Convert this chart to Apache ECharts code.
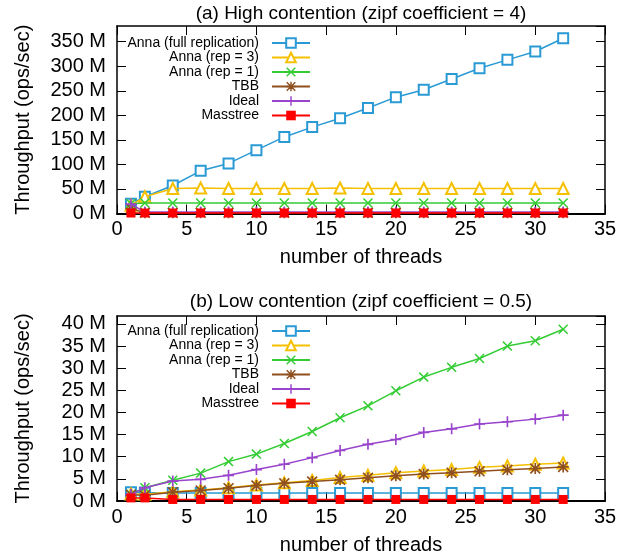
<!DOCTYPE html>
<html>
<head>
<meta charset="utf-8">
<script src="https://cdn.jsdelivr.net/npm/echarts@6/dist/echarts.min.js"></script>
<style>html,body{margin:0;padding:0;background:#fff}#c{width:633px;height:556px}</style>
</head>
<body>
<div id="c"></div>
<script>
// ---- data ----
var threads = [1, 2, 4, 6, 8, 10, 12, 14, 16, 18, 20, 22, 24, 26, 28, 30, 32];
var seriesNames = ['Anna (full replication)', 'Anna (rep = 3)', 'Anna (rep = 1)', 'TBB', 'Ideal', 'Masstree'];
var xTicks = [0, 5, 10, 15, 20, 25, 30, 35];
var titleHigh = '(a) High contention (zipf coefficient = 4)';
var titleLow = '(b) Low contention (zipf coefficient = 0.5)';
var yName = 'Throughput (ops/sec)';
var xName = 'number of threads';

// high contention (M ops/sec)
var hiFull  = [20, 34, 57, 87, 102, 129, 156, 176, 194, 215, 237, 252, 274, 296, 313, 330, 357];
var hiRep3  = [17, 34, 51, 52, 51, 51, 51, 51, 52, 51, 51, 51, 51, 51, 51, 51, 51];
var hiRep1  = [20, 21.5, 21.5, 21.5, 21.5, 21.5, 21.5, 21.5, 21.5, 21.5, 21.5, 21.5, 21.5, 21.5, 21.5, 21.5, 21.5];
var hiTBB   = [10, 1.5, 1.5, 1.5, 1.5, 1.5, 1.5, 1.5, 1.5, 1.5, 1.5, 1.5, 1.5, 1.5, 1.5, 1.5, 1.5];
var hiIdeal = [19, 3, 3, 3, 3, 3, 3, 3, 3, 3, 3, 3, 3, 3, 3, 3, 3];
var hiMass  = [1, 1, 1, 1, 1, 1, 1, 1, 1, 1, 1, 1, 1, 1, 1, 1, 1];

// low contention (M ops/sec)
var loFull  = [2.0, 1.9, 1.8, 1.8, 1.8, 1.8, 1.8, 1.8, 1.8, 1.8, 1.8, 1.8, 1.8, 1.8, 1.8, 1.8, 1.8];
var loRep3  = [1.6, 1.5, 2.1, 2.5, 3.0, 3.6, 4.1, 4.65, 5.3, 5.8, 6.4, 6.8, 7.1, 7.6, 7.9, 8.3, 8.6];
var loRep1  = [1.5, 3.0, 4.7, 6.3, 8.9, 10.6, 13.0, 15.7, 18.8, 21.5, 24.9, 28.0, 30.2, 32.2, 35.0, 36.2, 38.8];
var loTBB   = [1.4, 1.3, 2.0, 2.4, 2.9, 3.5, 4.0, 4.4, 4.8, 5.25, 5.7, 6.1, 6.4, 6.7, 7.05, 7.35, 7.7];
var loIdeal = [1.5, 3.0, 4.5, 4.9, 5.8, 7.1, 8.3, 9.8, 11.4, 12.8, 13.9, 15.5, 16.3, 17.4, 17.9, 18.5, 19.4];
var loMass  = [0.7, 0.7, 0.35, 0.35, 0.35, 0.35, 0.35, 0.35, 0.35, 0.35, 0.35, 0.35, 0.35, 0.35, 0.35, 0.35, 0.35];

// ---- styling ----
var FONT = 'Liberation Sans, Arial, Helvetica, sans-serif';
var colors = ['#2a9ad4', '#f5c000', '#33cc33', '#8f4f1e', '#9944cc', '#ff0000'];
var PLUS = 'M8.5,0H11.5V8.5H20V11.5H11.5V20H8.5V11.5H0V8.5H8.5Z';
var XS = 'M0,2.12L2.12,0L10,7.88L17.88,0L20,2.12L12.12,10L20,17.88L17.88,20L10,12.12L2.12,20L0,17.88L7.88,10Z';
var symbols = ['emptyRect', 'emptyTriangle', 'path://' + XS, 'path://' + PLUS + ' ' + XS, 'path://' + PLUS, 'rect'];
var symSizes = [10, 11, 10, 11, 11, 9];

function pairs(vals) { return threads.map(function (t, i) { return [t, vals[i]]; }); }

function mkSeries(dataSets, gi) {
  return dataSets.map(function (vals, k) {
    return {
      type: 'line', name: seriesNames[k], xAxisIndex: gi * 2, yAxisIndex: gi * 2,
      data: pairs(vals), symbol: symbols[k], symbolSize: symSizes[k],
      showAllSymbol: true,
      lineStyle: { width: 1.5, color: colors[k] },
      itemStyle: { color: colors[k], borderWidth: 1.5 },
      z: 2 + k
    };
  });
}

function xAxes(gi) {
  return [
    { type: 'value', gridIndex: gi, min: 0, max: 35, interval: 5, position: 'bottom',
      name: xName, nameLocation: 'middle', nameGap: 34,
      nameTextStyle: { fontFamily: FONT, fontSize: 20, color: '#000' },
      axisLine: { show: true, onZero: false, lineStyle: { color: '#000', width: 2 } },
      axisTick: { show: true, inside: true, length: 9, lineStyle: { color: '#000', width: 1 } },
      axisLabel: { margin: 6, fontFamily: FONT, fontSize: 20, color: '#000',
        formatter: function (v) { return xTicks.indexOf(v) >= 0 ? String(v) : ''; } },
      splitLine: { show: false } },
    { type: 'value', gridIndex: gi, min: 0, max: 35, interval: 5, position: 'top',
      axisLine: { show: true, onZero: false, lineStyle: { color: '#000', width: 1.5 } },
      axisTick: { show: true, inside: true, length: 9, lineStyle: { color: '#000', width: 1 } },
      axisLabel: { show: false }, splitLine: { show: false } }
  ];
}

function yAxes(gi, max, interval) {
  var fmt = function (v) { return (Math.abs(v % interval) < 1e-9) ? (v + ' M') : ''; };
  return [
    { type: 'value', gridIndex: gi, min: 0, max: max, interval: interval, position: 'left',
      name: yName, nameLocation: 'middle', nameGap: 84, nameRotate: 90,
      nameTextStyle: { fontFamily: FONT, fontSize: 20, color: '#000' },
      axisLine: { show: true, onZero: false, lineStyle: { color: '#000', width: 1.5 } },
      axisTick: { show: true, inside: true, length: 9, lineStyle: { color: '#000', width: 1 } },
      axisLabel: { margin: 11, fontFamily: FONT, fontSize: 20, color: '#000', showMaxLabel: false, formatter: fmt },
      splitLine: { show: false } },
    { type: 'value', gridIndex: gi, min: 0, max: max, interval: interval, position: 'right',
      axisLine: { show: true, onZero: false, lineStyle: { color: '#000', width: 1.5 } },
      axisTick: { show: true, inside: true, length: 9, lineStyle: { color: '#000', width: 1 } },
      axisLabel: { show: false }, splitLine: { show: false } }
  ];
}

function mkLegend(top) {
  return {
    orient: 'vertical', right: 322, top: top, padding: 0, align: 'right',
    itemWidth: 38, itemHeight: 12, itemGap: 0.5,
    selectedMode: false,
    data: seriesNames,
    textStyle: { fontFamily: FONT, fontSize: 14, color: '#000', lineHeight: 14,
      width: 150, align: 'right', padding: [0, 8, 0, 0] }
  };
}

var chart = echarts.init(document.getElementById('c'), null, { renderer: 'canvas' });
chart.setOption({
  animation: false,
  backgroundColor: '#fff',
  title: [
    { text: titleHigh, left: 361, top: 4, textAlign: 'center', padding: 0,
      textStyle: { fontFamily: FONT, fontSize: 19, fontWeight: 'normal', color: '#000' } },
    { text: titleLow, left: 361, top: 292, textAlign: 'center', padding: 0,
      textStyle: { fontFamily: FONT, fontSize: 19, fontWeight: 'normal', color: '#000' } }
  ],
  legend: [mkLegend(36), mkLegend(324)],
  grid: [
    { left: 117, top: 26, width: 488, height: 187.5, containLabel: false },
    { left: 117, top: 316, width: 488, height: 185.5, containLabel: false }
  ],
  xAxis: xAxes(0).concat(xAxes(1)),
  yAxis: yAxes(0, 382, 50).concat(yAxes(1, 41.8, 5)),
  series: mkSeries([hiFull, hiRep3, hiRep1, hiTBB, hiIdeal, hiMass], 0)
    .concat(mkSeries([loFull, loRep3, loRep1, loTBB, loIdeal, loMass], 1))
});
</script>
</body>
</html>
